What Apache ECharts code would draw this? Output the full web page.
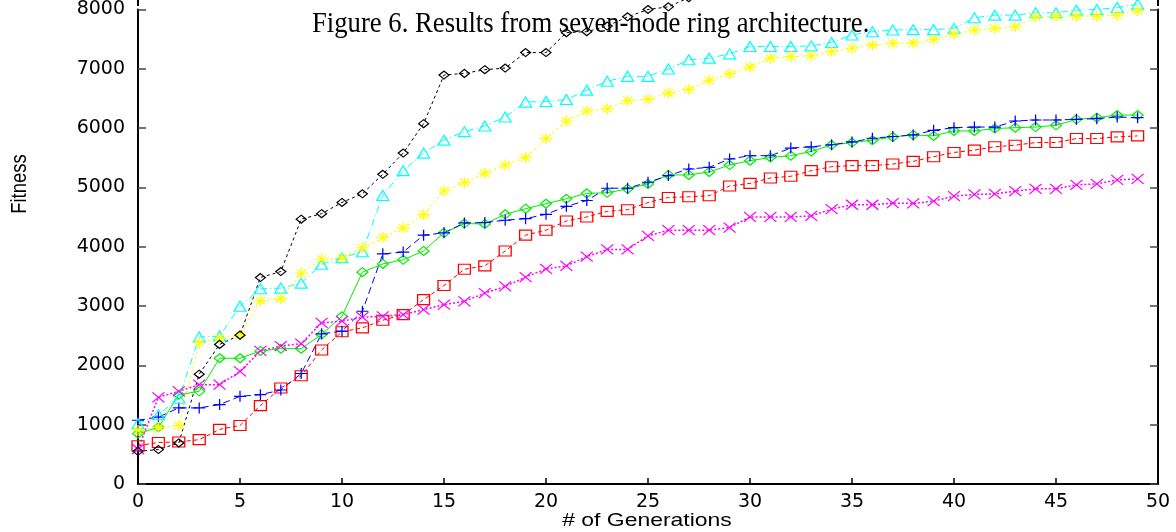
<!DOCTYPE html>
<html>
<head>
<meta charset="utf-8">
<script src="https://cdn.jsdelivr.net/npm/echarts@6/dist/echarts.min.js"></script>
<style>
  html, body { margin: 0; padding: 0; background: #fff; }
  #chart { width: 1176px; height: 532px; }
</style>
</head>
<body>
<div id="chart"></div>
<script>
// generations 0..49
var generations = [];
for (var g = 0; g < 50; g++) generations.push(g);

var xTicks = [0, 5, 10, 15, 20, 25, 30, 35, 40, 45, 50];
var yTicks = [0, 1000, 2000, 3000, 4000, 5000, 6000, 7000, 8000];

// values
var redSquares = [645, 700, 708, 748, 921, 987, 1322, 1618, 1824, 2259,
    2566, 2633, 2762, 2856, 3108, 3347, 3621, 3677, 3928, 4196,
    4279, 4435, 4502, 4597, 4625, 4745, 4831, 4842, 4860, 5025,
    5068, 5160, 5188, 5283, 5350, 5367, 5367, 5395, 5439, 5518,
    5590, 5629, 5685, 5712, 5757, 5757, 5824, 5824, 5852, 5869];
var greenDiamonds = [848, 955, 1506, 1562, 2120, 2120, 2243, 2282, 2282, 2521,
    2828, 3571, 3710, 3780, 3930, 4234, 4391, 4385, 4547, 4641,
    4725, 4809, 4900, 4910, 4976, 5060, 5211, 5211, 5261, 5378,
    5451, 5506, 5535, 5607, 5715, 5757, 5796, 5852, 5885, 5869,
    5953, 5953, 5992, 6008, 6018, 6047, 6148, 6176, 6220, 6220];
var bluePlus = [1075, 1127, 1283, 1283, 1339, 1478, 1506, 1584, 1863, 2532,
    2577, 2912, 3880, 3910, 4195, 4234, 4402, 4408, 4447, 4474,
    4547, 4681, 4780, 4987, 4987, 5088, 5200, 5311, 5339, 5479,
    5535, 5535, 5663, 5685, 5720, 5768, 5829, 5858, 5885, 5963,
    6008, 6018, 6018, 6120, 6137, 6137, 6148, 6159, 6188, 6176];
var magentaCross = [590, 1462, 1562, 1674, 1674, 1897, 2243, 2326, 2365, 2717,
    2745, 2812, 2828, 2856, 2940, 3024, 3080, 3218, 3331, 3487,
    3627, 3677, 3833, 3955, 3955, 4184, 4279, 4279, 4279, 4324,
    4502, 4502, 4502, 4519, 4635, 4708, 4708, 4736, 4730, 4770,
    4853, 4882, 4890, 4937, 4976, 4976, 5043, 5060, 5127, 5143];
var cyanTriangles = [1016, 1170, 1445, 2477, 2494, 2996, 3292, 3303, 3386, 3704,
    3816, 3916, 4865, 5283, 5579, 5797, 5941, 6037, 6188, 6439,
    6449, 6483, 6640, 6790, 6873, 6873, 6996, 7152, 7180, 7252,
    7375, 7375, 7375, 7387, 7445, 7571, 7626, 7654, 7660, 7660,
    7682, 7861, 7905, 7905, 7944, 7944, 7989, 8000, 8033, 8090];
var yellowStars = [904, 955, 987, 2382, 2460, 2510, 3091, 3125, 3554, 3794,
    3810, 3983, 4156, 4318, 4541, 4943, 5082, 5241, 5378, 5506,
    5824, 6120, 6288, 6326, 6466, 6483, 6594, 6650, 6807, 6918,
    7029, 7180, 7208, 7219, 7292, 7347, 7403, 7431, 7437, 7498,
    7587, 7654, 7682, 7710, 7877, 7888, 7888, 7888, 7905, 7977];
// black runs off the top of the picture after gen 26, the rest is a guess
var blackDiamonds = [552, 580, 692, 1852, 2354, 2510, 3481, 3582, 4464, 4558,
    4748, 4892, 5222, 5579, 6075, 6895, 6923, 6985, 7013, 7274,
    7274, 7610, 7626, 7721, 7877, 8000, 8045, 8200, 8260, 8300,
    8330, 8360, 8380, 8400, 8430, 8450, 8470, 8490, 8510, 8520,
    8540, 8560, 8580, 8600, 8610, 8630, 8650, 8660, 8680, 8690];

function pairs(arr) {
    var out = [];
    for (var i = 0; i < arr.length; i++) out.push([generations[i], arr[i]]);
    return out;
}

var STAR = 'path://M0,5L10,5M5,0L5,10M1.5,1.5L8.5,8.5M8.5,1.5L1.5,8.5';
var PLUS = 'path://M0,5L10,5M5,0L5,10';
var CROSS = 'path://M0,0L10,10M10,0L0,10';

function line(name, data, color, symbol, size, dash, width) {
    return {
        name: name,
        type: 'line',
        data: pairs(data),
        clip: false,   // the picture is cut at 8000, marks above just run off the top
        symbol: symbol,
        symbolSize: size,
        showAllSymbol: true,
        lineStyle: { color: color, width: width || 1, type: dash },
        itemStyle: { color: 'transparent', borderColor: color, borderWidth: 1.2 },
        emphasis: { disabled: true }
    };
}

var tickFont = { fontFamily: 'DejaVu Sans', fontSize: 19, color: '#000',
    formatter: function (v) { return String(v); } };

var chart = echarts.init(document.getElementById('chart'), null, { renderer: 'canvas' });
chart.setOption({
    animation: false,
    backgroundColor: '#fff',
    grid: { left: 138, right: 18, top: 5, bottom: 48, containLabel: false },
    xAxis: {
        type: 'value', min: xTicks[0], max: xTicks[xTicks.length - 1], interval: 5,
        axisLine: { lineStyle: { color: '#000', width: 2 } },
        axisTick: { inside: true, length: 6, lineStyle: { color: '#000', width: 1.5 } },
        axisLabel: Object.assign({ margin: 9 }, tickFont),
        splitLine: { show: false }
    },
    yAxis: [{
        type: 'value', min: yTicks[0], max: yTicks[yTicks.length - 1], interval: 1000,
        axisLine: { show: true, lineStyle: { color: '#000', width: 2 } },
        axisTick: { show: true, inside: true, length: 8, lineStyle: { color: '#444', width: 1.5 } },
        axisLabel: Object.assign({ margin: 13 }, tickFont),
        splitLine: { show: false }
    }, {
        type: 'value', min: yTicks[0], max: yTicks[yTicks.length - 1], interval: 1000, position: 'right',
        axisLine: { show: true, lineStyle: { color: '#000', width: 2 } },
        axisTick: { show: true, inside: true, length: 8, lineStyle: { color: '#444', width: 1.5 } },
        axisLabel: { show: false },
        splitLine: { show: false }
    }],
    graphic: [
        // the frame runs on past the 8000 tick to the top edge
        { type: 'line', shape: { x1: 138, y1: 0, x2: 138, y2: 6 }, style: { stroke: '#000', lineWidth: 2 } },
        { type: 'line', shape: { x1: 1158, y1: 0, x2: 1158, y2: 6 }, style: { stroke: '#000', lineWidth: 2 } },
        { type: 'text', x: 312, y: 24, scaleY: 1.1, z: 1,
          style: { text: 'Figure 6. Results from seven-node ring architecture.',
                   font: '26.7px "Liberation Serif"', fill: '#000', verticalAlign: 'middle' } },
        { type: 'text', x: 20, y: 184, rotation: Math.PI / 2, scaleY: 1.24,
          style: { text: 'Fitness', font: '18.5px "Liberation Sans"', fill: '#000',
                   align: 'center', verticalAlign: 'middle' } },
        { type: 'text', x: 647, y: 521, scaleX: 1.24,
          style: { text: '# of Generations', font: '18.5px "Liberation Sans"', fill: '#000',
                   align: 'center', verticalAlign: 'middle' } }
    ],
    series: [
        line('red', redSquares, '#ff0000', 'rect', [12, 10], [4, 3]),
        line('green', greenDiamonds, '#00ee00', 'diamond', [11, 9], 'solid'),
        line('blue', bluePlus, '#0000ff', PLUS, [12, 11], [7, 4]),
        line('magenta', magentaCross, '#ff00ff', CROSS, [12, 10], [2, 2], 1.5),
        line('cyan', cyanTriangles, '#00ffff', 'triangle', [12, 10], [7, 3, 1, 3]),
        line('yellow', yellowStars, '#ffff00', STAR, [13, 11], [2, 3], 1.2),
        line('black', blackDiamonds, '#000000', 'diamond', [10, 8], [3, 3])
    ]
});
</script>
</body>
</html>
